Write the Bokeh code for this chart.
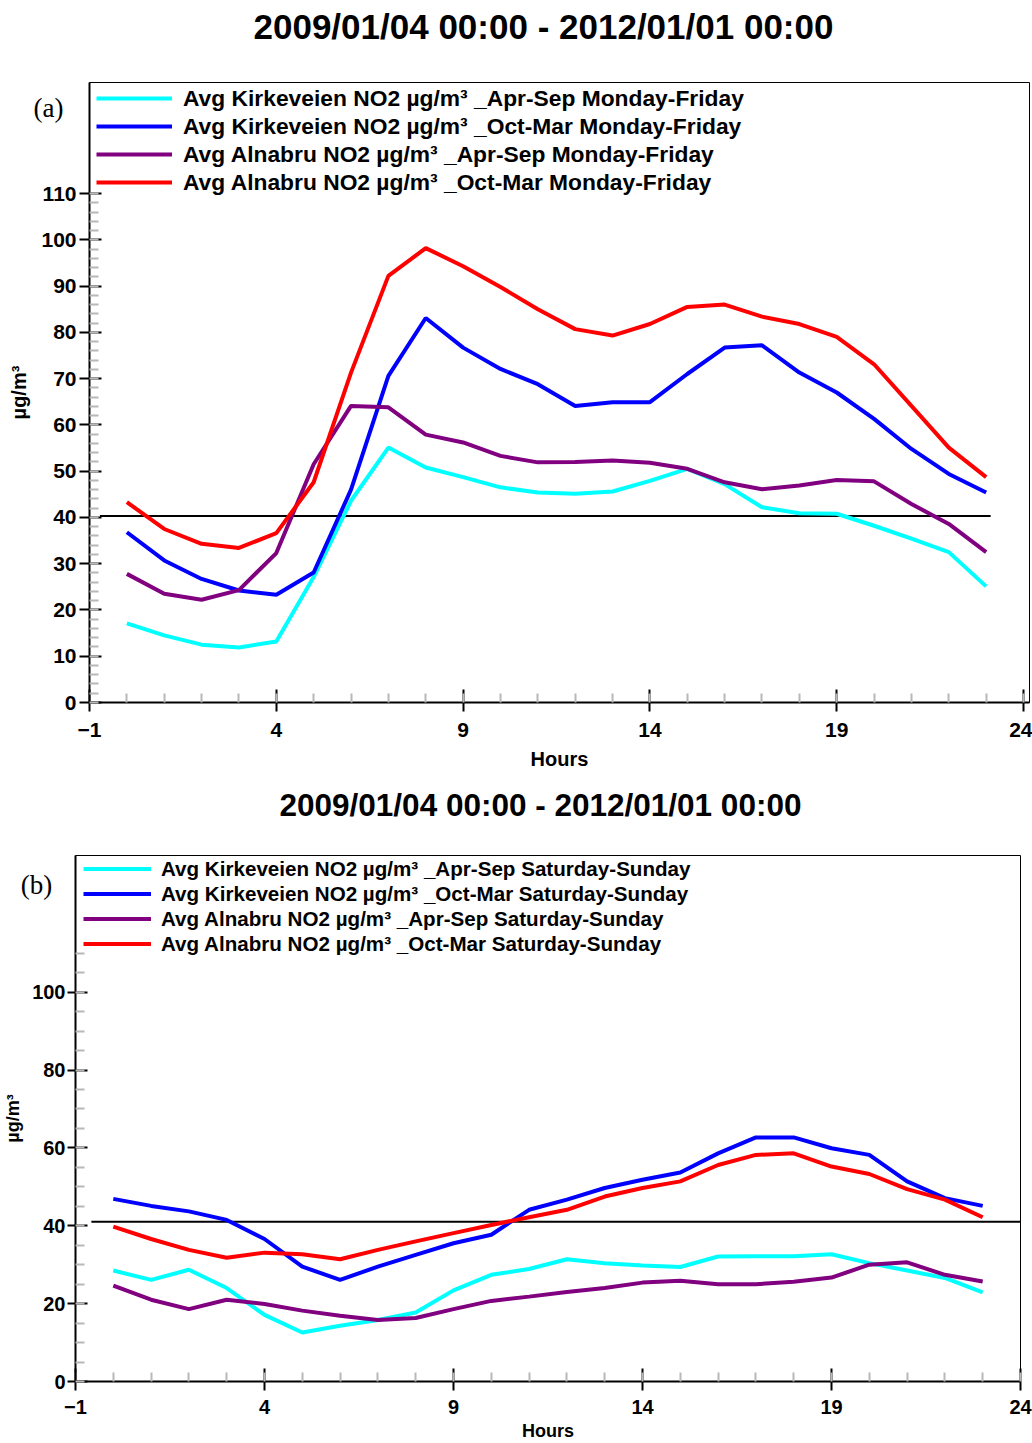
from bokeh.plotting import figure
from bokeh.models import FixedTicker, Label, Range1d, Title
from bokeh.layouts import column
from bokeh.embed import file_html
from bokeh.resources import INLINE

# ---------------- data ----------------
hours = list(range(24))
x_major_ticks = [-1, 4, 9, 14, 19, 24]
x_minor_ticks = list(range(-1, 25))
title_text = "2009/01/04 00:00 - 2012/01/01 00:00"
unit_label = "µg/m³"
x_label = "Hours"
tag_a_text = "(a)"
tag_b_text = "(b)"

series_names_a = [
    "Avg Kirkeveien NO2 µg/m³ _Apr-Sep Monday-Friday",
    "Avg Kirkeveien NO2 µg/m³ _Oct-Mar Monday-Friday",
    "Avg Alnabru NO2 µg/m³ _Apr-Sep Monday-Friday",
    "Avg Alnabru NO2 µg/m³ _Oct-Mar Monday-Friday",
]
series_names_b = [
    "Avg Kirkeveien NO2 µg/m³ _Apr-Sep Saturday-Sunday",
    "Avg Kirkeveien NO2 µg/m³ _Oct-Mar Saturday-Sunday",
    "Avg Alnabru NO2 µg/m³ _Apr-Sep Saturday-Sunday",
    "Avg Alnabru NO2 µg/m³ _Oct-Mar Saturday-Sunday",
]
series_colors = ["#00FFFF", "#0000FF", "#800080", "#FF0000"]

# Monday-Friday
kirk_aprsep_wd = [17.1, 14.5, 12.5, 11.9, 13.2, 27.1, 43.6, 55.1, 50.8, 48.7, 46.5, 45.4,
                  45.1, 45.6, 47.9, 50.5, 47.2, 42.2, 40.9, 40.8, 38.2, 35.4, 32.5, 25.1]
kirk_octmar_wd = [36.8, 30.7, 26.7, 24.2, 23.3, 28.1, 46.0, 70.6, 83.1, 76.7, 72.1, 68.8,
                  64.1, 64.9, 64.9, 71.0, 76.7, 77.2, 71.3, 67.0, 61.3, 54.8, 49.4, 45.4]
aln_aprsep_wd = [27.8, 23.5, 22.2, 24.3, 32.3, 51.5, 64.1, 63.8, 57.9, 56.2, 53.3, 51.9,
                 52.0, 52.3, 51.8, 50.5, 47.6, 46.1, 46.9, 48.1, 47.8, 42.9, 38.6, 32.5]
aln_octmar_wd = [43.3, 37.5, 34.3, 33.4, 36.6, 47.6, 71.3, 92.2, 98.2, 94.3, 89.8, 85.0,
                 80.7, 79.3, 81.8, 85.5, 86.0, 83.4, 81.8, 79.0, 73.1, 64.1, 55.1, 48.7]

# Saturday-Sunday
kirk_aprsep_we = [28.5, 26.1, 28.7, 24.0, 17.1, 12.6, 14.3, 15.8, 17.7, 23.4, 27.4, 28.9,
                  31.4, 30.4, 29.8, 29.4, 32.1, 32.2, 32.2, 32.7, 30.4, 28.5, 26.6, 22.9]
kirk_octmar_we = [46.9, 45.1, 43.7, 41.5, 36.6, 29.5, 26.1, 29.5, 32.5, 35.5, 37.7, 44.1,
                  46.7, 49.7, 51.8, 53.7, 58.6, 62.7, 62.7, 59.9, 58.2, 51.4, 47.1, 45.1]
aln_aprsep_we = [24.6, 21.0, 18.6, 21.0, 19.9, 18.2, 16.9, 15.8, 16.3, 18.6, 20.7, 21.8,
                 23.0, 24.0, 25.4, 25.9, 25.0, 25.0, 25.6, 26.7, 30.0, 30.6, 27.4, 25.7]
aln_octmar_we = [39.8, 36.6, 33.8, 31.8, 33.1, 32.7, 31.4, 33.8, 36.0, 38.1, 40.2, 42.2,
                 44.1, 47.5, 49.7, 51.4, 55.6, 58.2, 58.6, 55.2, 53.3, 49.4, 46.7, 42.2]

limit_a = 40.3
limit_a_x = [-0.72, 23.12]
limit_b = 41.0
limit_b_x = [-0.58, 24.0]

y_major_a = list(range(0, 111, 10))
y_minor_a = list(range(0, 111, 2))
y_major_b = list(range(0, 101, 20))
y_minor_b = list(range(0, 111, 5))

FONT = "Liberation Sans"


def style_axes(p, label_size, tick_size, y_major, y_minor, xl_standoff, yl_standoff,
               xt_standoff, yt_standoff, ytick_out):
    p.xaxis.ticker = FixedTicker(ticks=x_major_ticks, minor_ticks=x_minor_ticks)
    p.yaxis.ticker = FixedTicker(ticks=y_major, minor_ticks=y_minor)
    for ax in (p.xaxis[0], p.yaxis[0]):
        ax.axis_line_color = "black"
        ax.axis_line_width = 2
        ax.major_tick_line_color = "black"
        ax.major_tick_line_width = 2
        ax.minor_tick_line_color = "#b8b8b8"
        ax.minor_tick_line_width = 2
        ax.minor_tick_in = 9
        ax.minor_tick_out = 0
        ax.major_label_text_font = FONT
        ax.major_label_text_font_style = "bold"
        ax.major_label_text_font_size = tick_size
        ax.major_label_text_color = "black"
        ax.axis_label_text_font = FONT
        ax.axis_label_text_font_style = "bold"
        ax.axis_label_text_font_size = label_size
        ax.axis_label_text_color = "black"
    p.xaxis.major_tick_in = 13
    p.xaxis.major_tick_out = 9
    p.yaxis.major_tick_in = 12
    p.yaxis.major_tick_out = ytick_out
    p.xaxis.axis_label = x_label
    p.yaxis.axis_label = unit_label
    p.xaxis.axis_label_standoff = xl_standoff
    p.yaxis.axis_label_standoff = yl_standoff
    p.xaxis.major_label_standoff = xt_standoff
    p.yaxis.major_label_standoff = yt_standoff
    p.xgrid.visible = False
    p.ygrid.visible = False
    p.outline_line_color = "black"
    p.outline_line_width = 1


def make_panel(width, height, x_end, y_top, borders, series, names, limit, limit_x,
               title_size, title_offset, legend_size, glyph_w, row_h, legend_loc,
               label_standoff):
    p = figure(width=width, height=height, x_range=Range1d(-1, x_end),
               y_range=Range1d(0, y_top), output_backend="svg", toolbar_location=None,
               min_border_left=borders[0], min_border_right=borders[1],
               min_border_top=borders[2], min_border_bottom=borders[3],
               background_fill_color="white", border_fill_color="white")
    try:
        p.frame_align = False
    except Exception:
        pass
    p.title.text = title_text
    p.title.align = "left"
    p.title.offset = title_offset
    p.title.standoff = 0
    p.title.text_font = FONT
    p.title.text_font_style = "bold"
    p.title.text_font_size = title_size
    p.title.text_color = "black"

    p.line(limit_x, [limit, limit], line_color="black", line_width=2)
    for vals, name, col in zip(series, names, series_colors):
        p.line(hours, vals, line_color=col, line_width=4, legend_label=name)

    lg = p.legend[0]
    lg.location = legend_loc
    lg.margin = 0
    lg.padding = 0
    lg.spacing = 0
    lg.glyph_width = glyph_w
    lg.glyph_height = row_h
    lg.label_height = row_h
    lg.label_standoff = label_standoff
    lg.label_text_font = FONT
    lg.label_text_font_style = "bold"
    lg.label_text_font_size = legend_size
    lg.label_text_color = "black"
    lg.label_text_baseline = "middle"
    lg.border_line_alpha = 0
    lg.background_fill_alpha = 0
    return p


def add_tag(p, text, cx, cy, gap):
    # the tag sits in the panel above the frame (between title and frame),
    # drawn at canvas coordinates so it is not clipped by the frame
    kw = dict(text=text, text_font="Liberation Serif", text_font_size="27px",
              text_align="center", text_baseline="middle", text_color="black")
    try:
        lab = Label(x=cx, y=cy, x_units="canvas", y_units="canvas", **kw)
    except Exception:
        lab = Label(x=cx, y=p.height - cy, x_units="screen", y_units="screen", **kw)
    p.add_layout(lab, "above")
    if gap is not None:
        p.add_layout(Title(text=" ", text_font_size="1px", standoff=gap), "above")


pa = make_panel(1032, 778, 24.16, 134.0, (89, 3, 82, 76),
                [kirk_aprsep_wd, kirk_octmar_wd, aln_aprsep_wd, aln_octmar_wd],
                series_names_a, limit_a, limit_a_x,
                "35px", 164, "22.8px", 76, 28, (7, 506), 11)
style_axes(pa, "20px", "21px", y_major_a, y_minor_a, 8, 8, 11, 3, 10)

pb = make_panel(1032, 665, 24.0, 135.1, (74, 12, 77, 62),
                [kirk_aprsep_we, kirk_octmar_we, aln_aprsep_we, aln_octmar_we],
                series_names_b, limit_b, limit_b_x,
                "31.5px", 204, "20.6px", 68, 25, (8, 425), 10)
style_axes(pb, "18px", "20px", y_major_b, y_minor_b, 4, 6, 9, 2, 8)

add_tag(pa, tag_a_text, 48, 107, 4)
add_tag(pb, tag_b_text, 36, 106, 0)

layout = column(pa, pb, spacing=0)
open("out.html", "w").write(file_html(layout, INLINE))
